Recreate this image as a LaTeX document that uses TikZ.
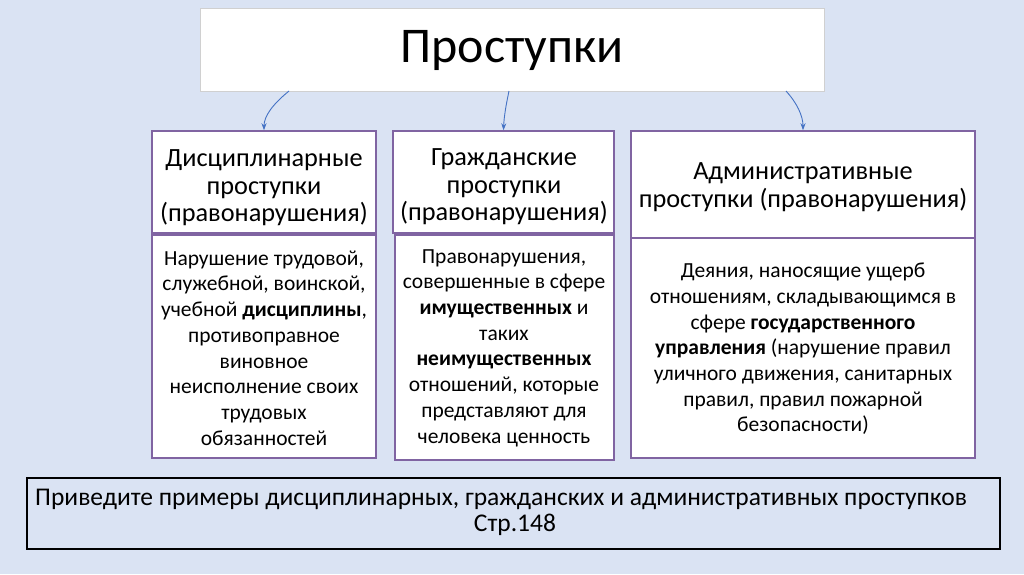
\documentclass[tikz,border=0pt]{standalone}
\usepackage{fontspec}
\setmainfont{Carlito}
\usetikzlibrary{arrows.meta}
\definecolor{bgblue}{HTML}{DAE3F3}
\definecolor{boxpurple}{HTML}{8064A2}
\definecolor{arrblue}{HTML}{4472C4}
\definecolor{titlegray}{HTML}{D0D0D0}
\tikzset{
  pbox/.style={draw=boxpurple, line width=1.5pt, fill=white, inner sep=0pt},
  hdrtext/.style={align=center, font=\fontsize{26.3}{27.5}\selectfont, inner sep=0pt},
  bodytext/.style={align=center, font=\fontsize{21.5}{25.7}\selectfont, inner sep=0pt},
  conn/.style={draw=arrblue, line width=0.9pt, -{Stealth[length=7pt,width=5pt]}}
}
\begin{document}
\begin{tikzpicture}[x=1pt,y=-1pt]
\fill[bgblue] (0,0) rectangle (1024,574);
\useasboundingbox (0,0) rectangle (1024,574);
% title
\node[draw=titlegray, line width=0.8pt, fill=white, minimum width=624pt, minimum height=83pt, inner sep=0pt] (title) at (512,49.5) {};
\node[font=\fontsize{50}{54}\selectfont, inner sep=0pt] (titletext) at (512,50) {Проступки};
% header boxes
\node[pbox, minimum width=224pt, minimum height=102pt] (h1) at (264,182) {};
\node[pbox, minimum width=221pt, minimum height=102pt] (h2) at (503.5,182) {};
\node[pbox, minimum width=344pt, minimum height=107pt] (h3) at (803,184.5) {};
% body boxes
\node[pbox, minimum width=224pt, minimum height=223pt] (b1) at (264,346.5) {};
\node[pbox, minimum width=219pt, minimum height=225pt] (b2) at (504.5,347.5) {};
\node[pbox, minimum width=344pt, minimum height=220pt] (b3) at (803,348) {};
% header texts
\node[hdrtext] (t1) at (264,188) {Дисциплинарные\\проступки\\(правонарушения)};
\node[hdrtext] (t2) at (504,187) {Гражданские\\проступки\\(правонарушения)};
\node[hdrtext] (t3) at (803,187) {Административные\\проступки (правонарушения)};
% body texts
\node[bodytext] (s1) at (264,348) {Нарушение трудовой,\\служебной, воинской,\\учебной \textbf{дисциплины},\\противоправное\\виновное\\неисполнение своих\\трудовых\\обязанностей};
\node[bodytext] (s2) at (504,348) {Правонарушения,\\совершенные в сфере\\\textbf{имущественных} и\\таких\\\textbf{неимущественных}\\отношений, которые\\представляют для\\человека ценность};
\node[bodytext] (s3) at (803,349) {Деяния, наносящие ущерб\\отношениям, складывающимся в\\сфере \textbf{государственного}\\\textbf{управления} (нарушение правил\\уличного движения, санитарных\\правил, правил пожарной\\безопасности)};
% bottom box
\node[draw=black, line width=2pt, fill=bgblue, minimum width=973pt, minimum height=71pt, inner sep=0pt] (task) at (513.5,513.5) {};
\node[align=center, font=\fontsize{25.5}{26}\selectfont, inner sep=0pt] (tasktext) at (515,512) {Приведите примеры дисциплинарных, гражданских и административных проступков\hspace*{28pt}\\Стр.148};
% connectors
\coordinate (a1) at (289,91);
\coordinate (a2) at (509,91);
\coordinate (a3) at (786,91);
\draw[conn] (a1) .. controls (273,104) and (264,116) .. (h1.north);
\draw[conn] (a2) .. controls (506,105) and (504,117) .. (h2.north);
\draw[conn] (a3) .. controls (797,103) and (803,116) .. (h3.north);
\end{tikzpicture}
\end{document}
